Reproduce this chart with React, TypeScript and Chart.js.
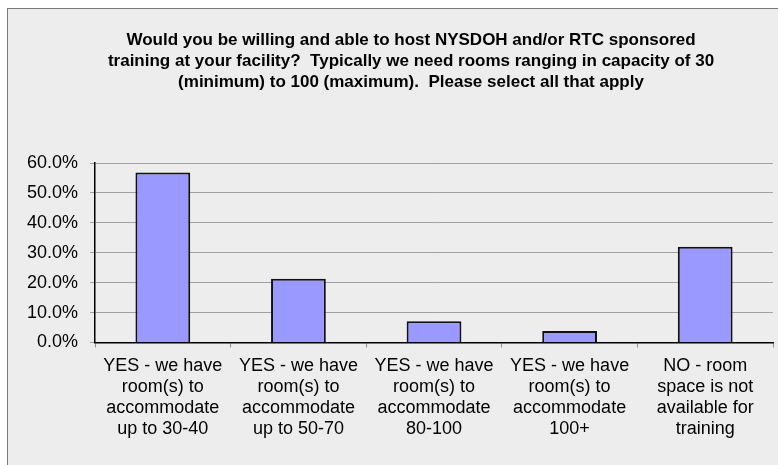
import React, { useEffect, useRef } from "react";
import { Chart, registerables } from "chart.js";

Chart.register(...registerables);

const titleLines = [
  "Would you be willing and able to host NYSDOH and/or RTC sponsored",
  "training at your facility?  Typically we need rooms ranging in capacity of 30",
  "(minimum) to 100 (maximum).  Please select all that apply",
];

const categories: string[][] = [
  ["YES - we have", "room(s) to", "accommodate", "up to 30-40"],
  ["YES - we have", "room(s) to", "accommodate", "up to 50-70"],
  ["YES - we have", "room(s) to", "accommodate", "80-100"],
  ["YES - we have", "room(s) to", "accommodate", "100+"],
  ["NO - room", "space is not", "available for", "training"],
];

const values = [56.8, 21.3, 7.1, 3.8, 32.0];

const yMin = 0;
const yMax = 60;
const yStep = 10;

const FONT = "'Liberation Sans', Arial, sans-serif";
const CW = 806;
const CH = 468;

const centeredTitle = {
  id: "centeredTitle",
  afterDraw(chart: any) {
    const ctx = chart.ctx;
    ctx.save();
    ctx.font = `bold 17px ${FONT}`;
    ctx.fillStyle = "#000";
    ctx.textAlign = "center";
    ctx.textBaseline = "middle";
    titleLines.forEach((line, i) => {
      ctx.fillText(line, chart.width / 2, 31 + i * 21);
    });
    ctx.restore();
  },
};

export default function App() {
  const ref = useRef<HTMLCanvasElement | null>(null);

  useEffect(() => {
    if (!ref.current) return;
    const chart = new Chart(ref.current, {
      type: "bar",
      data: {
        labels: categories,
        datasets: [
          {
            data: values,
            backgroundColor: "#9999ff",
            borderColor: "#111111",
            borderWidth: 2,
            categoryPercentage: 1,
            barPercentage: 0.404,
          },
        ],
      },
      options: {
        responsive: false,
        animation: false,
        devicePixelRatio: 1,
        layout: { padding: { left: 7, right: 41, top: 154, bottom: 30 } },
        plugins: {
          legend: { display: false },
          tooltip: { enabled: false },
          title: { display: false },
        },
        scales: {
          x: {
            offset: true,
            grid: {
              offset: true,
              drawOnChartArea: false,
              drawTicks: true,
              tickLength: 5,
              color: "#909090",
            },
            border: { display: true, color: "#000", width: 1.5 },
            ticks: {
              color: "#000",
              padding: 8,
              maxRotation: 0,
              autoSkip: false,
              font: { family: FONT, size: 18, lineHeight: 1.16 },
            },
          },
          y: {
            min: yMin,
            max: yMax,
            grid: {
              color: "#a0a0a0",
              lineWidth: 1,
              drawTicks: true,
              tickLength: 5,
            },
            border: { display: true, color: "#000", width: 1.5 },
            ticks: {
              stepSize: yStep,
              color: "#000",
              padding: 12,
              font: { family: FONT, size: 18 },
              callback: (v: any) => Number(v).toFixed(1) + "%",
            },
          },
        },
      },
      plugins: [centeredTitle],
    });
    return () => chart.destroy();
  }, []);

  return (
    <div
      style={{
        position: "fixed",
        left: 0,
        top: 0,
        width: 778,
        height: 465,
        overflow: "hidden",
        background: "#ffffff",
      }}
    >
      <div
        style={{
          position: "absolute",
          left: 7,
          top: 8,
          width: 808,
          height: 470,
          boxSizing: "border-box",
          border: "1px solid #7a7a7a",
          background: "#ededed",
        }}
      >
        <canvas
          ref={ref}
          width={CW}
          height={CH}
          style={{ position: "absolute", left: 0, top: 0, width: CW, height: CH }}
        />
      </div>
    </div>
  );
}
